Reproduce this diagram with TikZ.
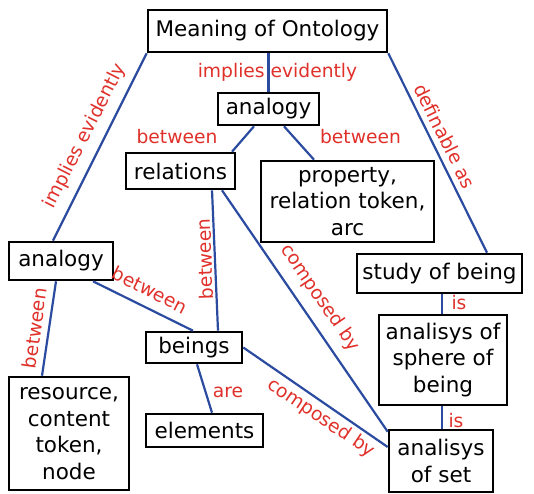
\documentclass[tikz,border=0pt]{standalone}
\usepackage{fontspec}
\setmainfont{DejaVu Sans}
\usetikzlibrary{calc}
\definecolor{linkblue}{HTML}{2B4BA0}
\definecolor{labelred}{HTML}{E0302A}
\tikzset{
  concept/.style={draw=black, line width=2.6pt, fill=white, inner sep=0pt, align=center,
    font=\fontsize{21.5}{26.5}\selectfont},
  link/.style={draw=linkblue, line width=2.2pt},
  linklabel/.style={text=labelred, inner sep=0pt, font=\fontsize{18.7}{22}\selectfont}
}
\begin{document}
\begin{tikzpicture}[x=1pt, y=-1pt]
\useasboundingbox (0,0) rectangle (534,493);

% concepts
\node[concept, minimum width=239, minimum height=42] (mean) at (267.5,31) {Meaning of Ontology};
\node[concept, minimum width=101, minimum height=32] (an1) at (268.5,109) {analogy};
\node[concept, minimum width=109, minimum height=36] (rel) at (180.5,171) {relations};
\node[concept, minimum width=173, minimum height=81] (prop) at (347.5,201.5) {property,\\relation token,\\arc};
\node[concept, minimum width=104, minimum height=38] (an2) at (61,261) {analogy};
\node[concept, minimum width=165, minimum height=39] (study) at (439.5,273.5) {study of being};
\node[concept, minimum width=128, minimum height=90] (sphere) at (443,360) {analisys of\\sphere of\\being};
\node[concept, minimum width=104, minimum height=62] (set) at (441,461) {analisys\\of set};
\node[concept, minimum width=120, minimum height=113] (res) at (69,433.5) {resource,\\content\\token,\\node};
\node[concept, minimum width=96, minimum height=31] (beings) at (194,347.5) {beings};
\node[concept, minimum width=117, minimum height=33] (elem) at (204.5,430.5) {elements};

% connectors
\draw[link] (mean.south west) -- ($(an2.north)+(-8,0)$);
\draw[link] (an1.north |- mean.south) -- (an1.north);
\draw[link] (mean.south east) -- ($(study.north)+(47.5,0)$);
\draw[link] ($(an1.south)+(-14.5,0)$) -- ($(rel.north)+(51.5,0)$);
\draw[link] ($(an1.south)+(15.5,0)$) -- ($(prop.north)+(-33.5,0)$);
\draw[link] ($(rel.south)+(31.5,0)$) -- ($(beings.north)+(24,0)$);
\draw[link] ($(rel.south)+(41.5,0)$) -- ($(set.north west)+(0,3)$);
\draw[link] ($(an2.south)+(32,0)$) -- ($(beings.north)+(-1,0)$);
\draw[link] ($(an2.south)+(-5,0)$) -- ($(res.north)+(-27,0)$);
\draw[link] ($(beings.south)+(3,0)$) -- ($(elem.north)+(7.5,0)$);
\draw[link] (beings.east) -- ($(set.west)+(0,-14)$);
\draw[link] ($(study.south)+(2.5,0)$) -- ($(sphere.north)+(-1,0)$);
\draw[link] ($(sphere.south)+(-1,0)$) -- ($(set.north)+(1,0)$);

% link labels
\node[linklabel, rotate=63] (l1) at (85,136) {implies evidently};
\node[linklabel] (l2) at (277.5,72) {implies evidently};
\node[linklabel, rotate=-63.5] (l3) at (445,136) {definable as};
\node[linklabel] (l4) at (177,137) {between};
\node[linklabel] (l5) at (360.5,137) {between};
\node[linklabel, rotate=92] (l6) at (205,259) {between};
\node[linklabel, rotate=-55.6] (l7) at (320,298) {composed by};
\node[linklabel, rotate=-27] (l8) at (150,290) {between};
\node[linklabel, rotate=82] (l9) at (34.5,328) {between};
\node[linklabel] (l10) at (228,392) {are};
\node[linklabel, rotate=-34] (l11) at (321,418) {composed by};
\node[linklabel] (l12) at (459,303) {is};
\node[linklabel] (l13) at (456,421) {is};
\end{tikzpicture}
\end{document}
